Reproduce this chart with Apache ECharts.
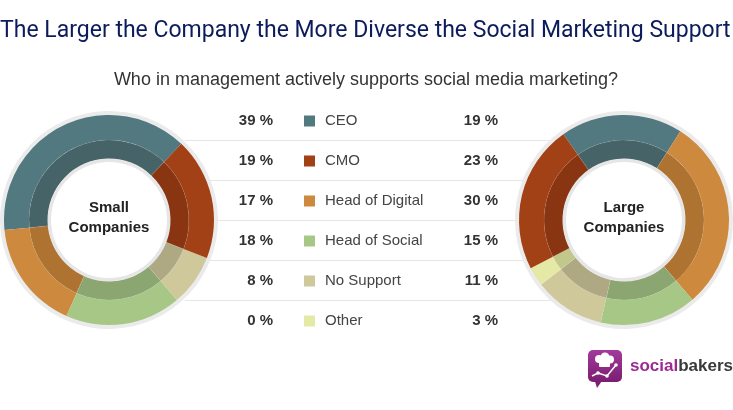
<!DOCTYPE html>
<html>
<head>
<meta charset="utf-8">
<script src="https://cdn.jsdelivr.net/npm/echarts@6/dist/echarts.min.js"></script>
<style>
html,body{margin:0;padding:0;background:#fff;}
#main{width:733px;height:410px;}
</style>
</head>
<body>
<div id="main"></div>
<script>
// ---- data ----
const categories = ['CEO', 'CMO', 'Head of Digital', 'Head of Social', 'No Support', 'Other'];
const smallCompanies = [39, 19, 17, 18, 8, 0];
const largeCompanies = [19, 23, 30, 15, 11, 3];
const pieOrder = ['CEO', 'Head of Digital', 'Head of Social', 'No Support', 'Other', 'CMO'];
const titleText = 'The Larger the Company the More Diverse the Social Marketing Support';
const subtitleText = 'Who in management actively supports social media marketing?';
const leftLabel = 'Small\nCompanies';
const rightLabel = 'Large\nCompanies';

// ---- styles ----
const colors = {
  'CEO': '#527880', 'CMO': '#A34116', 'Head of Digital': '#CD893D',
  'Head of Social': '#A7C786', 'No Support': '#CFC89B', 'Other': '#E4E9A6'
};
const darkColors = {
  'CEO': '#466468', 'CMO': '#8A3512', 'Head of Digital': '#AF7331',
  'Head of Social': '#8CA672', 'No Support': '#AEA883', 'Other': '#C2C78C'
};

function pieData(values, palette) {
  return pieOrder.map(function (name) {
    const i = categories.indexOf(name);
    return { name: name, value: values[i], itemStyle: { color: palette[name] } };
  });
}

function donut(center, values, clockwise, startAngle) {
  const common = {
    type: 'pie', center: center, clockwise: clockwise, startAngle: startAngle,
    label: { show: false }, labelLine: { show: false }, silent: true,
    animation: false, minShowLabelAngle: 0, avoidLabelOverlap: false
  };
  return [
    Object.assign({}, common, {
      radius: [104, 109], data: [{ value: 1, itemStyle: { color: '#ebebeb' } }], z: 1
    }),
    Object.assign({}, common, {
      radius: [80, 105], data: pieData(values, colors), z: 2
    }),
    Object.assign({}, common, {
      radius: [61, 80], data: pieData(values, darkColors), z: 3,
      itemStyle: { borderColor: 'rgba(255,255,255,0.12)', borderWidth: 0.6 }
    }),
    Object.assign({}, common, {
      radius: [58, 61.5], data: [{ value: 1, itemStyle: { color: '#e6e6e6' } }], z: 4
    })
  ];
}

// ---- table graphics ----
const graphics = [];
const rowY0 = 121, rowStep = 40;
for (let k = 1; k < categories.length; k++) {
  const y = rowY0 + rowStep * k - 20.5;
  graphics.push({ type: 'line', z: -10, shape: { x1: 185, y1: y, x2: 565, y2: y },
    style: { stroke: '#e6e6e6', lineWidth: 1 } });
}
categories.forEach(function (name, k) {
  const y = rowY0 + rowStep * k;
  graphics.push({ type: 'text', x: 273, y: y, style: { text: smallCompanies[k] + ' %',
    font: 'bold 15px "Liberation Sans", Arial, sans-serif', fill: '#333', align: 'right', verticalAlign: 'middle' } });
  graphics.push({ type: 'rect', shape: { x: 304, y: y - 5.5, width: 11, height: 11 },
    style: { fill: colors[name] } });
  graphics.push({ type: 'text', x: 325, y: y, style: { text: name,
    font: '15px "Liberation Sans", Arial, sans-serif', fill: '#444', align: 'left', verticalAlign: 'middle' } });
  graphics.push({ type: 'text', x: 498, y: y, style: { text: largeCompanies[k] + ' %',
    font: 'bold 15px "Liberation Sans", Arial, sans-serif', fill: '#333', align: 'right', verticalAlign: 'middle' } });
});

// center labels
[[109, 218, leftLabel], [624, 218, rightLabel]].forEach(function (c) {
  graphics.push({ type: 'text', x: c[0], y: c[1], z: 100, style: { text: c[2],
    font: 'bold 15px "Liberation Sans", Arial, sans-serif', fill: '#222', align: 'center',
    verticalAlign: 'middle', lineHeight: 20 } });
});

// titles
graphics.push({ type: 'text', x: 0, y: 31, style: { text: titleText,
  font: '23px Roboto, sans-serif', fill: '#0B1B5C', align: 'left', verticalAlign: 'middle' } });
graphics.push({ type: 'text', x: 366, y: 80, style: { text: subtitleText,
  font: '18px "Liberation Sans", Arial, sans-serif', fill: '#333', align: 'center', verticalAlign: 'middle' } });

// logo
graphics.push({ type: 'group', x: 588, y: 350, children: [
  { type: 'polygon', shape: { points: [[6, 28], [16, 28], [9, 38]] }, style: { fill: '#7B1F73' } },
  { type: 'rect', shape: { x: 0, y: 0, width: 34, height: 32, r: 5 },
    style: { fill: new echarts.graphic.LinearGradient(0, 0, 0, 1, [
      { offset: 0, color: '#A43A9B' }, { offset: 1, color: '#7A1E72' }]) } },
  { type: 'circle', shape: { cx: 11, cy: 9, r: 4 }, style: { fill: '#fff' } },
  { type: 'circle', shape: { cx: 17, cy: 7, r: 4.5 }, style: { fill: '#fff' } },
  { type: 'circle', shape: { cx: 22, cy: 9.5, r: 4 }, style: { fill: '#fff' } },
  { type: 'rect', shape: { x: 11, y: 10, width: 11, height: 7, r: 1 }, style: { fill: '#fff' } },
  { type: 'polyline', shape: { points: [[4, 26], [10, 23], [19, 26], [28, 15]] },
    style: { stroke: '#fff', lineWidth: 1.5, fill: null } },
  { type: 'circle', shape: { cx: 10, cy: 23, r: 1.8 }, style: { fill: '#fff' } },
  { type: 'circle', shape: { cx: 19, cy: 26, r: 1.8 }, style: { fill: '#fff' } },
  { type: 'circle', shape: { cx: 28, cy: 15, r: 1.8 }, style: { fill: '#fff' } }
] });
graphics.push({ type: 'text', x: 630, y: 366, style: {
  text: '{a|social}{b|bakers}', verticalAlign: 'middle', align: 'left',
  rich: {
    a: { font: 'bold 17px "Liberation Sans", Arial, sans-serif', fill: '#9B2A90' },
    b: { font: 'bold 17px "Liberation Sans", Arial, sans-serif', fill: '#3A3A3A' }
  } } });

const chart = echarts.init(document.getElementById('main'), null, { renderer: 'canvas' });
chart.setOption({
  animation: false,
  backgroundColor: '#fff',
  series: [].concat(
    donut([109, 220], smallCompanies, false, 46.5),
    donut([624, 220], largeCompanies, true, 125.3)
  ),
  graphic: { elements: graphics }
});
</script>
</body>
</html>
